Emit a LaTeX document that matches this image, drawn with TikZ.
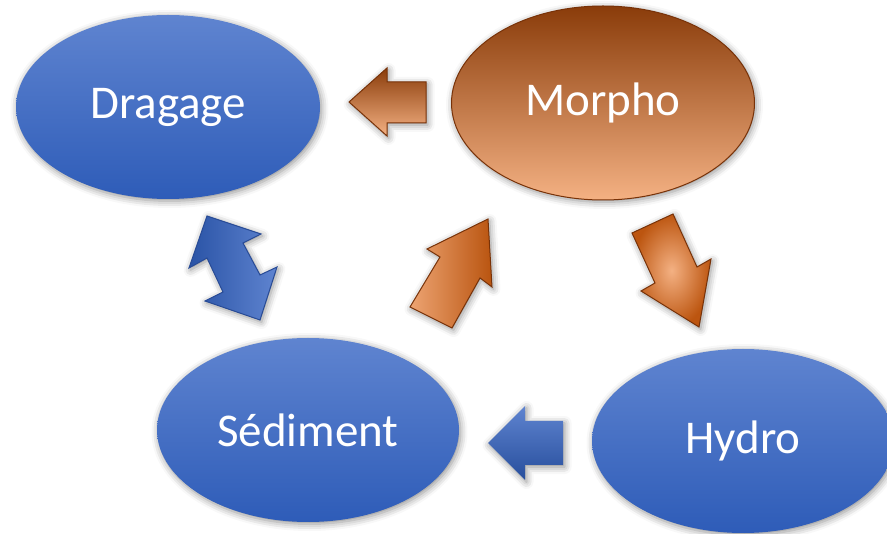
\documentclass[tikz,border=0pt]{standalone}
\usepackage{fontspec}
\setmainfont{Carlito}
\usetikzlibrary{shapes.geometric,shadows.blur}
\definecolor{bluetop}{RGB}{95,132,208}
\definecolor{bluebot}{RGB}{46,92,184}
\definecolor{brtop}{RGB}{138,60,10}
\definecolor{brmid}{RGB}{197,90,17}
\definecolor{brbot}{RGB}{244,177,131}
\definecolor{brline}{RGB}{120,50,8}
\definecolor{bluline}{RGB}{40,75,150}
\tikzset{
  soft/.style={blur shadow={shadow xshift=1.5pt,shadow yshift=-2pt,shadow blur radius=7pt,shadow opacity=45}},
  blueell/.style={ellipse,inner sep=0pt,minimum width=304pt,minimum height=184pt,
    top color=bluetop,bottom color=bluebot,draw=none,text=white,font=\fontsize{47}{50}\selectfont,soft},
  brownell/.style={ellipse,inner sep=0pt,minimum width=303pt,minimum height=194pt,
    top color=brtop,middle color=brmid,bottom color=brbot,draw=brline,line width=1pt,text=white,font=\fontsize{47}{50}\selectfont,soft},
  brarrow/.style={draw=brline,line width=1pt,line join=miter,soft},
  bluarrow/.style={line join=miter,soft}
}
\begin{document}
\begin{tikzpicture}[x=1pt,y=-1pt]
\useasboundingbox (0,0) rectangle (887,534);
\clip (0,0) rectangle (887,534);
% ellipses
\node[blueell] (drag) at (168,107) {Dragage};
\node[brownell] (morpho) at (603,103) {Morpho};
\node[blueell, minimum width=302pt] (sed) at (308,430) {Sédiment};
\node[blueell, minimum width=302pt] (hydro) at (743,441) {Hydro};
% brown left arrow Morpho -> Dragage
\path[brarrow,top color=brtop,middle color=brmid,bottom color=brbot]
  (349,102) -- (387,68) -- (387,82) -- (426,82) -- (426,123) -- (387,123) -- (387,136) -- cycle;
% blue double arrow Dragage <-> Sediment
\path[bluarrow,draw=bluline,line width=1pt,left color=bluebot!90!black,right color=bluetop]
  (207,216) -- (261,234) -- (243,243) -- (260,275) -- (277,267) -- (260,320)
  -- (205,301) -- (223,292) -- (207,258) -- (189,268) -- cycle;
% brown up-right arrow Sediment -> Morpho
\path[brarrow,left color=brbot!85!brmid,right color=brmid!80!brtop]
  (488,219) -- (492,287) -- (480,278) -- (452,328) -- (410,307) -- (440,257) -- (427,249) -- cycle;
% brown down-right arrow Morpho -> Hydro
\path[brarrow,inner color=brbot,outer color=brmid!85!brtop]
  (632,233) -- (673,214) -- (697,267) -- (711,259) -- (699,327) -- (641,291) -- (655,283) -- cycle;
% blue left arrow Hydro -> Sediment
\path[bluarrow,top color=bluetop,bottom color=bluebot!85!black]
  (488,443) -- (525,406) -- (525,421) -- (563,421) -- (563,465) -- (525,465) -- (525,480) -- cycle;
\end{tikzpicture}
\end{document}
